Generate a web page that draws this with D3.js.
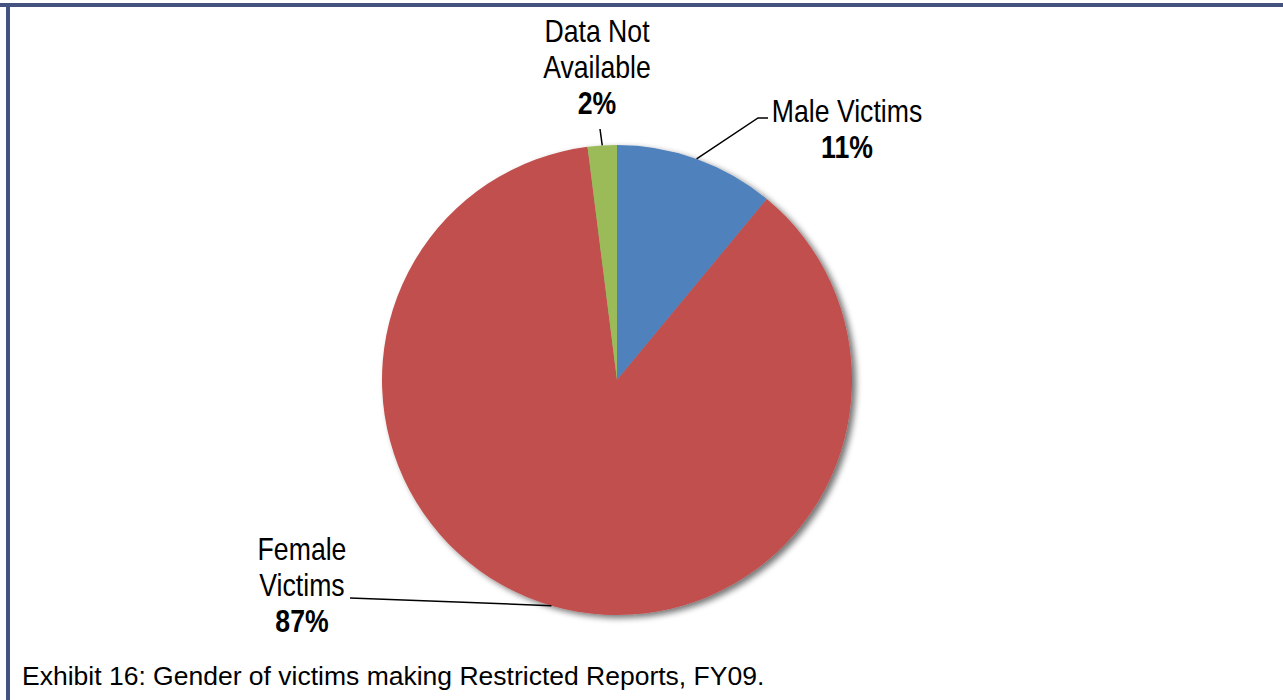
<!DOCTYPE html>
<html>
<head>
<meta charset="utf-8">
<script src="https://cdn.jsdelivr.net/npm/d3@7"></script>
<style>
  html, body { margin: 0; padding: 0; background: #fff; }
  svg { display: block; }
</style>
</head>
<body>
<svg id="chart" width="1283" height="700"></svg>
<script>
// ---- data ----
const categories = ["Male Victims", "Female Victims", "Data Not Available"];
const labelLines = [["Male Victims"], ["Female", "Victims"], ["Data Not", "Available"]];
const values = [11, 87, 2];
const valueLabels = ["11%", "87%", "2%"];
const colors = ["#4f81bd", "#c0504d", "#9bbb59"];
const caption = "Exhibit 16: Gender of victims making Restricted Reports, FY09.";

// ---- layout ----
const W = 1283, H = 700;
const cx = 617, cy = 380, R = 235;
const labelFont = "'Liberation Sans', Arial, sans-serif";
const lineH = 36;
const squeeze = 0.86;

const svg = d3.select("#chart");

// frame
const border = "#44527f";
svg.append("rect").attr("x", 0).attr("y", 3).attr("width", W).attr("height", 4).attr("fill", border);
svg.append("rect").attr("x", 6).attr("y", 3).attr("width", 4).attr("height", H).attr("fill", border);

// shadow filter
const defs = svg.append("defs");
const f = defs.append("filter").attr("id", "shadow").attr("x", "-10%").attr("y", "-10%").attr("width", "120%").attr("height", "120%");
f.append("feGaussianBlur").attr("in", "SourceAlpha").attr("stdDeviation", 3).attr("result", "blur");
f.append("feOffset").attr("in", "blur").attr("dx", 4).attr("dy", 3).attr("result", "off");
f.append("feComponentTransfer").attr("in", "off").attr("result", "sh")
  .append("feFuncA").attr("type", "linear").attr("slope", 0.55);
const m = f.append("feMerge");
m.append("feMergeNode").attr("in", "sh");
m.append("feMergeNode").attr("in", "SourceGraphic");

const data = categories.map((c, i) => ({ name: c, value: values[i], lines: labelLines[i], pct: valueLabels[i], color: colors[i] }));

const pie = d3.pie().value(d => d.value).sort(null);
const arcs = pie(data);
const arc = d3.arc().innerRadius(0).outerRadius(R);
const edge = d3.arc().innerRadius(R).outerRadius(R);

const g = svg.append("g").attr("transform", `translate(${cx},${cy})`);
g.append("g").attr("filter", "url(#shadow)")
  .selectAll("path").data(arcs).join("path")
  .attr("d", arc)
  .attr("fill", d => d.data.color);

// label placement (relative to pie centre): label centre x, first baseline y, leader elbow/end
const labelPos = [
  { x: 230, y: -258, leader: [[141, -262], [151, -262]] },
  { x: -315, y: 180, leader: [[-267, 218]] },
  { x: -20, y: -338, leader: [[-17, -251]] }
];

arcs.forEach((a, i) => {
  const p = labelPos[i];
  const start = edge.centroid(a);
  const pts = [start, ...p.leader];
  g.append("path")
    .attr("d", d3.line()(pts))
    .attr("fill", "none")
    .attr("stroke", "#000")
    .attr("stroke-width", 1.5);
  const t = g.append("text")
    .attr("transform", `translate(${p.x},${p.y}) scale(${squeeze},1)`)
    .attr("text-anchor", "middle")
    .attr("font-family", labelFont)
    .attr("font-size", 31)
    .attr("fill", "#000");
  a.data.lines.forEach((ln, k) => {
    t.append("tspan").attr("x", 0).attr("y", k * lineH).text(ln);
  });
  t.append("tspan").attr("x", 0).attr("y", a.data.lines.length * lineH)
    .attr("font-weight", "bold").text(a.data.pct);
});

// caption
svg.append("text")
  .attr("x", 22).attr("y", 685)
  .attr("font-family", "'Liberation Sans', Arial, sans-serif")
  .attr("font-size", 26.5)
  .attr("fill", "#000")
  .text(caption);
</script>
</body>
</html>
